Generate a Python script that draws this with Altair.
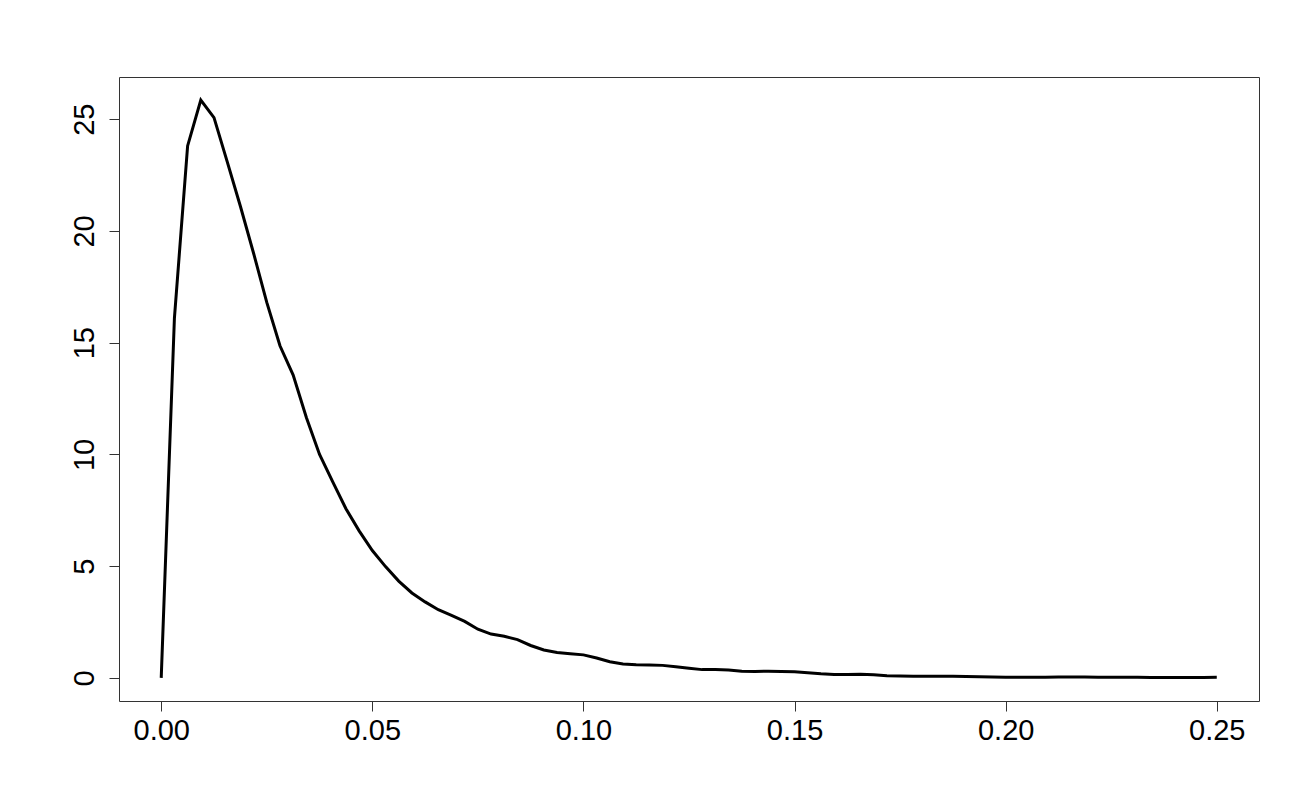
import altair as alt
import pandas as pd

step = 0.003125
y_values = [
    0.0, 16.1, 23.8, 25.85, 25.07, 23.1, 21.1, 19.0, 16.8, 14.86,
    13.55, 11.65, 10.0, 8.77, 7.57, 6.58, 5.7, 4.98, 4.33, 3.8,
    3.4, 3.05, 2.8, 2.53, 2.18, 1.96, 1.86, 1.71, 1.45, 1.25,
    1.14, 1.08, 1.03, 0.89, 0.72, 0.62, 0.59, 0.58, 0.56, 0.5,
    0.43, 0.37, 0.37, 0.35, 0.3, 0.29, 0.3, 0.29, 0.27, 0.23,
    0.18, 0.15, 0.15, 0.16, 0.14, 0.1, 0.08, 0.07, 0.07, 0.07,
    0.07, 0.06, 0.05, 0.04, 0.03, 0.03, 0.03, 0.03, 0.04, 0.04,
    0.04, 0.03, 0.03, 0.03, 0.03, 0.02, 0.02, 0.02, 0.02, 0.02,
    0.03,
]
x_values = [round(i * step, 6) for i in range(len(y_values))]
x_ticks = [0.0, 0.05, 0.10, 0.15, 0.20, 0.25]
y_ticks = [0, 5, 10, 15, 20, 25]

df = pd.DataFrame({"x": x_values, "y": y_values})

font = "Liberation Sans"
frame = "#333333"

chart = (
    alt.Chart(df)
    .mark_line(color="black", strokeWidth=3, strokeJoin="miter", strokeCap="butt")
    .encode(
        x=alt.X(
            "x:Q",
            scale=alt.Scale(domain=[-0.01, 0.26], nice=False, zero=False),
            axis=alt.Axis(
                values=x_ticks, format=".2f", title=None, grid=False, domain=False,
                tickColor=frame, tickSize=10, tickWidth=1,
                labelFont=font, labelFontSize=29, labelColor="black", labelPadding=5,
                labelFlush=False, labelOverlap=False,
            ),
        ),
        y=alt.Y(
            "y:Q",
            scale=alt.Scale(domain=[-1.034, 26.885], nice=False, zero=False),
            axis=alt.Axis(
                values=y_ticks, format="d", title=None, grid=False, domain=False,
                tickColor=frame, tickSize=10, tickWidth=1,
                labelFont=font, labelFontSize=29, labelColor="black", labelPadding=16,
                labelAngle=270, labelAlign="center", labelBaseline="alphabetic",
                labelFlush=False, labelOverlap=False,
            ),
        ),
    )
    .properties(
        width=1140,
        height=624,
        autosize=alt.AutoSizeParams(type="none"),
        padding={"left": 111, "top": 69, "right": 33, "bottom": 91},
        background="white",
    )
    .configure_view(stroke=frame, strokeWidth=1)
)

chart.save("out.html", embed_options={"renderer": "svg", "actions": False})
